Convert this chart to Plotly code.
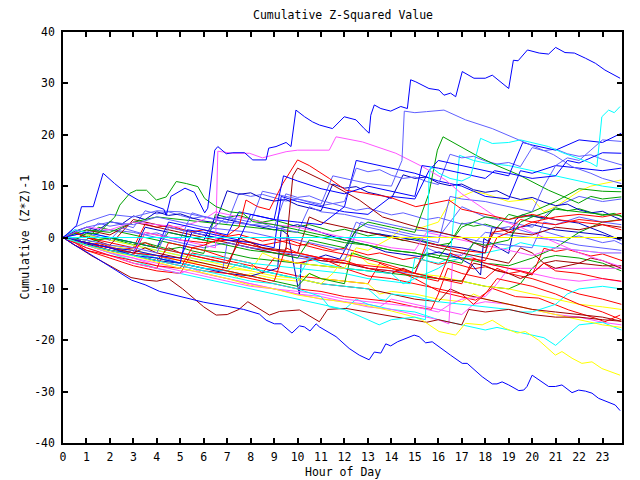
import plotly.graph_objects as go

# ---------------- data (hour of day, cumulative (Z*Z)-1) ----------------
blue_top_h = [0, 0.3, 0.58, 0.79, 1.29, 1.71, 2.2, 2.71, 3.2, 3.7, 4.3, 4.4, 4.6, 5.2, 5.6, 6.04, 6.17, 6.47, 6.6, 6.96, 7.24, 7.74, 8.09, 8.66, 8.77, 9.08, 9.51, 9.72, 9.93, 10.3, 10.64, 10.93, 11.49, 11.99, 12.49, 12.84, 13.05, 13.12, 13.27, 13.55, 13.97, 14.4, 14.68, 14.82, 15.04, 15.6, 16.03, 16.24, 16.52, 16.74, 17.02, 17.52, 18.0, 18.3, 19.0, 19.2, 19.4, 19.8, 20.3, 20.7, 21.0, 21.4, 21.8, 22.27, 22.7, 23.1, 23.75]
blue_top_v = [0, 1.1, 2.4, 6.0, 6.0, 12.5, 10.5, 8.6, 7.3, 6.5, 5.5, 4.3, 8.0, 9.6, 8.8, 4.8, 5.7, 17.0, 17.7, 16.3, 16.5, 16.5, 15.1, 15.1, 17.4, 17.7, 18.5, 17.7, 24.8, 23.5, 22.5, 21.9, 21.2, 23.5, 22.9, 21.2, 20.3, 23.8, 25.8, 25.1, 24.6, 25.5, 25.1, 30.7, 30.3, 29.0, 28.7, 27.7, 28.1, 27.4, 32.3, 31.0, 31.0, 31.6, 29.0, 34.5, 34.4, 36.5, 35.9, 35.7, 37.0, 36.0, 35.9, 34.9, 33.9, 32.6, 31.0]

blue_bot_h = [0, 0.5, 1.0, 1.64, 2.3, 2.92, 3.5, 4.12, 5.0, 6.0, 7.0, 7.7, 8.37, 8.66, 9.01, 9.3, 9.76, 10.08, 10.29, 10.53, 10.79, 10.93, 11.64, 12.2, 12.63, 13.05, 13.27, 13.55, 13.76, 13.97, 14.26, 14.61, 14.97, 15.18, 15.46, 15.74, 16.03, 16.52, 17.02, 17.23, 17.87, 18.3, 18.5, 18.72, 19.0, 19.43, 19.64, 19.78, 20.0, 20.28, 20.7, 20.99, 21.27, 21.7, 21.98, 22.27, 22.55, 22.83, 23.26, 23.54, 23.75]
blue_bot_v = [0, -1.5, -2.8, -4.7, -6.5, -8.3, -9.2, -10.5, -11.5, -12.6, -13.4, -14.0, -14.9, -16.1, -16.8, -16.8, -18.6, -17.2, -17.4, -18.2, -16.8, -17.4, -19.3, -21.6, -22.9, -23.8, -22.3, -22.5, -20.7, -21.1, -20.3, -19.6, -19.0, -19.3, -20.5, -20.3, -21.3, -22.9, -24.5, -24.5, -27.1, -28.5, -28.5, -28.1, -28.7, -29.8, -29.7, -29.0, -26.8, -27.7, -29.0, -29.0, -28.7, -30.2, -29.7, -29.9, -30.3, -31.3, -32.0, -32.6, -33.7]

blue3_h = [0, 1, 2, 3, 4, 5, 5.3, 6, 7, 7.5, 8, 9, 9.4, 10, 11, 12, 13, 14, 15, 15.3, 16, 17, 18, 18.4, 19, 20, 21, 21.5, 22, 23, 23.8]
blue3_v = [0, -1, -2, -3.5, -4, -5, 1.5, 1, 0, -0.5, 4.5, 3.5, 12, 11, 9.5, 8.5, 10, 9, 8, 14, 13.5, 12.5, 11.5, 13, 12.5, 11.5, 12, 15, 14.5, 16.5, 16.4]

blue4_h = [0, 1, 2, 3, 3.5, 4, 5, 6, 6.5, 7, 8, 9, 10, 10.93, 12, 13, 13.76, 15.18, 16.03, 16.88, 17.45, 17.8, 17.94, 18.5, 19.0, 19.29, 19.57, 20.7, 21.98, 23.1, 23.75]
blue4_v = [0, -1, -2, -3, 2, 1.5, 0.5, -0.5, 4, 3.5, 2.5, 1.5, 2.5, 1.1, -0.5, -1.5, -2.8, -3.7, -2.8, -4.0, -5.4, -7.3, -0.2, -1.8, -3.1, 3.4, 4.4, 3.7, 2.8, 0.8, -0.5]

blue5_h = [0, 1, 2, 3, 4, 5, 6, 7, 8, 9.15, 9.3, 9.6, 10.08, 10.15, 11.2, 11.8, 12.5, 13, 14, 15, 16, 17, 18, 18.3, 19, 20, 21, 22, 23, 23.8]
blue5_v = [0, -1.2, -2.5, -3.5, -4.5, -5, -6, -7, -7.5, -6.0, 1.5, 0.5, -11.2, -5.0, -3.4, -4.2, 1.5, 1, 0.3, -0.5, -1.5, -2, -3, 2, 1.5, 2.5, 1.5, 1, 0.5, -0.5]

blue6_h = [0, 1, 2, 3, 4, 5, 5.5, 6, 7, 8, 9, 9.3, 10, 11, 12, 13, 14, 15, 15.6, 16, 17, 18, 19, 19.6, 20, 21, 22, 23, 23.8]
blue6_v = [0, -1, -2, -2.5, -3.5, -4, 1, 0.5, -0.5, -1, -2, 8, 7, 6, 5, 4.5, 8, 7.5, 13, 15, 14, 13, 12, 18.5, 18, 17, 19, 18.5, 20.3]

blue7_h = [0, 1, 2, 3, 4, 4.5, 5, 6, 7, 7.5, 8, 9, 10, 11, 12, 12.5, 13, 14, 15, 16, 17, 17.5, 18, 19, 19.5, 20, 21, 22, 23, 23.8]
blue7_v = [0, 1, 0, -1, -2, 3, 2.5, 1.5, 0.5, 5, 4.5, 3.5, 3, 2.5, 6, 15, 14.5, 13.5, 12.5, 11, 10, 9, 8, 7.5, 13, 12.5, 14, 13.5, 13, 13.5]

mblue1_h = [0, 1, 2, 3, 4, 4.5, 5, 6, 7, 8, 8.5, 9, 10, 11, 11.5, 12, 13, 14, 14.45, 14.55, 15, 15.5, 16.24, 17.16, 17.87, 18.3, 19.43, 20.92, 21.7, 22.5, 23, 23.8]
mblue1_v = [0, -0.5, -1.5, -2, -3, 2, 1.5, 0.5, 4, 3, 9, 8.5, 7.5, 6.5, 12, 11.5, 10.5, 10, 15, 24.6, 24.3, 24.5, 24.8, 22.9, 21.9, 21.2, 19.0, 16.1, 13.8, 12.5, 11.5, 10.5]

mblue2_h = [0, 1, 2, 3, 4, 5, 6, 7, 8, 9, 10, 11, 12, 12.5, 13, 14, 15, 16, 16.5, 17, 18, 19, 20, 20.5, 21, 21.5, 22, 22.5, 23, 23.8]
mblue2_v = [0, 2, 3, 2.5, 4, 3, 2, 1.5, 1, 0, -0.5, -1.5, -2.5, 3, 2, 1, 0, -1, 8, 7.5, 7, 6, 5, 10, 14, 15.5, 15, 17, 19, 18.7]

mblue3_h = [0, 0.5, 1, 2, 3, 4, 5, 6, 7, 8, 9, 10, 10.5, 11, 12, 13, 14, 15, 16, 17, 18, 19, 20, 20.5, 21, 22, 23, 23.8]
mblue3_v = [0, 2, 3, 4.5, 4, 5.2, 5, 4, 3, 2.5, 2, 1, 6, 5, 4.5, 3.5, 2.5, 1.5, 1, 0, -1, -1.5, -2, 3, 2.5, 4, 3, 2.5]

mblue4_h = [0, 1, 2, 3, 4, 5, 6, 6.8, 7, 8, 9, 10, 11, 12, 12.7, 13, 14, 15, 16, 17, 17.5, 18, 19, 20, 21, 21.5, 22, 23, 23.8]
mblue4_v = [0, -1, -2, -3, -3.5, -5, -6, -6.5, -1, -2, -2.5, -3.5, -4, -4.5, 3, 2.5, 1.5, 0.5, 0, 6, 5, 4, 3, 2, 6, 7, 8, 7, 7.5]

mblue5_h = [0, 1, 2, 3, 4, 5, 6, 7, 8, 9, 10, 11, 12, 13, 14, 15, 15.5, 16, 17, 18, 19, 20, 21, 22, 23, 23.8]
mblue5_v = [0, 1, 1.5, 1, 0, -1, -2, -1, -2, -3, -4, -4.5, -5, -6, -6.5, -7, -2, -3, -3.5, 1, 0.5, 0, -0.5, -1.5, -2, -2.5]

red1_h = [0, 0.5, 1, 2, 3, 4, 5, 5.5, 6, 6.96, 7.5, 7.8, 8.3, 8.8, 9.37, 10.0, 10.5, 11.35, 12.06, 13, 13.9, 15.04, 16.45, 17, 18, 19, 20, 21, 22, 23, 23.8]
red1_v = [0, -1, -2, -3.5, -4.5, -5.5, -6, -2, -1.5, 0.2, 2, 7.3, 6, 5.4, 10.5, 15.1, 14, 11.5, 9.2, 8.5, 7.9, 6, 7.3, 5.5, 4.5, 3.5, 4.5, 3.5, 3, 2.5, 1.5]

red2_h = [0, 1, 2, 3, 4, 5, 6, 7, 8, 9, 9.5, 10, 11, 12, 13, 14, 15, 15.5, 16, 17, 18, 18.3, 19, 19.5, 20, 21, 22, 23, 23.8]
red2_v = [0, -1, -2, -3, -3.5, -4.5, -5.5, -6.5, -7.5, -8.5, -2, -3, -4, -5, -5.5, -6, -7, -1, -1.5, -2.5, -3, 1, 1.5, 3.5, 3, 4, 4.5, 4, 4.7]

red3_h = [0, 0.5, 1, 2, 3, 4, 5, 5.5, 6, 7, 8, 9, 10, 11, 12, 13, 13.5, 14, 15, 16.03, 17.59, 18.3, 19.29, 20.28, 21.56, 22.69, 23.1, 23.75]
red3_v = [0, -1.5, -2.5, -4, -5.5, -6.5, -7, -3, -3.5, -4.5, -5.5, -6.5, -7.5, -8, -8.5, -9, -5, -6, -8, -10.5, -12.2, -9.9, -11.5, -11.8, -14.1, -15.7, -16.4, -15.1]

red4_h = [0, 1, 2, 3, 3.5, 4, 5, 6, 7, 7.95, 8.5, 9.65, 10.3, 11.07, 12.49, 13.62, 15.04, 16, 17, 17.5, 18, 19, 20, 20.5, 21, 22, 23, 23.8]
red4_v = [0, -1.5, -2.5, -3.5, 1, 0.5, -0.5, -1, -0.5, -0.8, -1.5, -0.5, -1.5, -2.4, -3.7, -5.0, -7.0, -8, -9, -4, -5, -6, -7, -5, -6.5, -7, -8, -8.5]

red5_h = [0, 0.5, 1, 2, 3, 4, 4.5, 5, 6, 7, 8, 8.5, 9, 10, 11, 12, 13, 14, 15, 16, 17, 17.5, 18, 18.5, 19, 20, 21, 22, 23, 23.8]
red5_v = [0, -1, -2.5, -3.5, -5, -6, -1, -1.5, -2.5, -4, -5, -7, -4, -5, -4, -6, -7.5, -8, -9, -10, -11, -13, -11, -8, -8.5, -9.5, -11, -13, -14.5, -16]

red6_h = [0, 0.5, 1, 2, 3, 3.5, 4, 5, 6, 7, 7.5, 8, 9, 10, 11, 12, 13, 14, 15, 16, 16.5, 17, 18, 18.5, 19, 19.5, 20, 21, 22, 23, 23.8]
red6_v = [0, 1, 0, -1, -2, -1, -2, -3, -4, -5, -1, -1.5, -2.5, -3, -4, -4.5, -6, -6.5, -7.5, -8.5, -3, -4, -4.5, 0, 1, 2, 3, 2.5, 3.5, 3, 3.4]

red7_h = [0, 1, 2, 3, 4, 5, 6, 7, 8, 9, 10, 11, 12, 13, 14, 15, 15.7, 16, 16.4, 17, 18, 18.5, 19, 20, 21, 22, 23, 23.8]
red7_v = [0, -1, -2.5, -3.5, -4.5, -5.5, -6.5, -7, -8, -9, -10, -10.5, -11.5, -12, -12.5, -13.5, -14, -11, -6, -7, -8, -6, -7, -8, -9.5, -11, -12, -13]

dred1_h = [0, 0.5, 1.2, 2, 2.9, 3.5, 4, 4.5, 5.1, 6, 6.53, 7.0, 7.5, 7.88, 8.8, 9.23, 10.08, 10.93, 11.28, 12.06, 13, 14, 15, 15.5, 16, 17, 17.3, 18, 19, 20, 21, 22, 23, 23.8]
dred1_v = [0, -1.5, -3.5, -5.5, -7.8, -8.3, -8.5, -8, -10, -13.5, -15.1, -15, -14, -12.5, -15.1, -14.4, -14.1, -16.4, -14.0, -13.8, -14.5, -15.3, -16, -16.5, -16, -17, -14, -14.5, -14, -15, -15.5, -15.5, -16, -16.3]

dred2_h = [0, 0.5, 1, 2, 3, 4, 5, 6, 7, 8, 9, 10, 10.5, 11, 12, 13, 14, 15, 16, 17, 18, 19, 19.5, 20, 20.5, 21, 22, 23, 23.8]
dred2_v = [0, 1, 0, -1.5, 3.5, 2.5, 1.5, 0.5, -0.5, -1.5, -2.5, -3, 4, 3, 2, 1, 0, -1, -2, -3, -4, -5, -2, -3, -5, -4.5, -5, -5.5, -5.5]

dred3_h = [0, 1, 2, 3, 3.5, 4, 5, 6, 7, 7.5, 8, 8.5, 9.5, 9.8, 10.0, 11.5, 12.63, 13.62, 15.04, 16, 17, 17.5, 18, 18.5, 19, 20, 21, 22, 23, 23.8]
dred3_v = [0, -1, -2, -3, -2, -3, -4, -5, -6, 0, -1, -2, -2.5, 12, 13.5, 10.2, 7.3, 4.0, 2.1, 1, 0, -1, -2, 2, 1, 0.5, 2, 1.5, 2.5, 2]

dred4_h = [0, 1, 2, 3, 4, 4.5, 5, 6, 7, 8, 9, 10, 11, 12, 13, 14, 15, 16, 16.5, 17, 18, 19, 20, 21, 22, 23, 23.8]
dred4_v = [0, -1.5, -2.5, -3.5, -4.5, -2, -3, -4, -5, -6, -7, -8, -9, -9.5, -10, -11, -12, -12.5, -10, -11, -12, -13, -14, -14.5, -15, -15.5, -16.3]

dred5_h = [0, 0.5, 1, 2, 3, 4, 5, 6, 7, 8, 9, 10, 11, 12, 13, 14, 14.5, 15, 16, 17, 17.5, 18, 18.5, 19, 19.5, 20, 20.5, 21, 22, 22.5, 23, 23.8]
dred5_v = [0, -1, 1.5, 0.5, 3, 2, 1, 0, -1, -2, -3, -3.5, -4.5, -5, -6, -7, -6, -7, -8, -8.5, -5, -5.5, -6.5, -7, -8, -7, -5, -6, -5, -4, -4.5, -6]

green1_h = [0, 0.5, 1, 1.5, 2.21, 2.42, 2.85, 3.13, 3.56, 3.98, 4.4, 4.83, 5.26, 5.75, 6.04, 6.53, 7.1, 7.67, 8.09, 9, 10, 11, 12, 13, 14, 15, 16, 17, 17.5, 18, 19, 19.5, 20, 21, 22, 23, 23.8]
green1_v = [0, -0.5, 0.8, 0.8, 4.0, 6.3, 8.6, 9.2, 9.2, 7.3, 7.9, 10.9, 10.5, 9.9, 7.6, 6.0, 5.0, 4.7, 3.1, 2.5, 1.5, 0.5, -0.5, -1.5, -2.5, -3, -4, -5, -1, -1.5, -0.5, 3, 4, 5.5, 5, 4.5, 4.3]

green2_h = [0, 1, 2, 3, 4, 4.5, 5, 6, 7, 8, 9, 10, 10.5, 11, 12, 12.5, 13, 14, 15, 15.6, 15.96, 16.2, 17, 17.73, 18.5, 19.43, 20.7, 21.98, 22.5, 23, 23.8]
green2_v = [0, -1, 0, -1, -2, 1, 0.5, -0.5, -1.5, -2.5, -3, -4, -0.5, -1, -2, 1.5, 3, 2, 1, 8.6, 17, 19.6, 17.5, 15.7, 14, 12.2, 9.2, 6.7, 8, 7.5, 7.9]

green3_h = [0, 1, 1.5, 2, 3, 4, 5, 6, 7, 8, 9, 10, 11, 12, 13, 14, 15, 16, 17, 18, 19, 19.5, 20, 20.5, 21, 22, 23, 23.8]
green3_v = [0, -0.5, 2, 1.5, 0.5, -0.5, -1.5, -2.5, -3, -4, -4.5, -5, -5.5, -6, -6.5, -7, -7.5, -8, -8.5, -9.5, -10, -9, -6, -4, -3.5, -4, -5, -6.5]

green4_h = [0, 1, 2, 3, 4, 5, 6, 7, 8, 9, 10, 11, 12, 13, 14, 15, 16, 17, 18, 19, 20, 21, 22, 23, 23.8]
green4_v = [0, 1.5, 1, 3, 4, 3.5, 3, 2.5, 2, 1.5, 1, 0, -1, -1.5, -2.5, -3, -4, 2, 4, 3.5, 5, 7, 9.5, 9, 8.9]

green5_h = [0, 1, 2, 3, 4, 5, 6, 7, 8, 9, 10, 10.5, 11, 12, 12.3, 13, 14, 15, 15.5, 16, 17, 18, 19, 20, 21, 22, 23, 23.8]
green5_v = [0, -1.5, -2.5, -3, -4, -5, -6, -6.5, -7.5, -8.5, -9.5, -7, -8, -9, -3, -4, -5, -6, -3, -3.5, -4, -5, -5.5, -4, -2, 1, 3, 3.5]

mag1_h = [0, 1, 2, 3, 3.5, 4, 5, 6, 6.5, 6.6, 7.2, 7.95, 8.5, 9.51, 10, 11.35, 11.64, 12.77, 14.19, 15.32, 16.31, 17, 18, 18.65, 19.5, 20, 21, 22, 23, 23.8]
mag1_v = [0, -1, -2, -3, 1, 0.5, -0.5, -1.5, -2, 16.8, 16.4, 16.4, 15.5, 16.7, 17, 17, 19.6, 18.6, 16.4, 13.8, 11.2, 8.5, 5.5, 3.4, 2, 1, -1, -3, -4.5, -5.7]

mag2_h = [0, 1, 2, 3, 4, 5, 6, 7, 8, 9, 10, 11, 12, 13, 14, 15, 16, 16.5, 17, 18, 18.5, 19, 19.5, 20, 21, 22, 23, 23.8]
mag2_v = [0, -1.5, -3, -4, -5, -6, -7, -8, -9, -10, -10.5, -11, -12, -12.5, -13, -13.5, -14.5, -13, -12, -11.5, -9, -6, -6, -6, -6, -6, -6, -6]

mag3_h = [0, 0.5, 1, 2, 3, 4, 5, 5.5, 6, 7, 8, 9, 10, 11, 12, 13, 14, 15, 16, 16.45, 16.6, 17, 17.5, 18, 19, 20, 21, 22, 23, 23.8]
mag3_v = [0, -1, -2, -3.5, -5, -6, -7, -6, -7, -8, -9, -10, -11, -12, -12.5, -13.5, -14, -15, -16, -16.8, -5, -3, -4, -5, -6, -7, -8, -8.5, -8, -8.6]

mag4_h = [0, 0.5, 1, 2, 3, 4, 5, 6, 6.5, 7, 8, 9, 10, 11, 12, 13, 14, 15, 15.5, 16, 17, 18, 19, 20, 21, 22, 23, 23.8]
mag4_v = [0, 1, 2, 1.5, 3, 2.5, 2, 3.5, 5, 4.5, 3.5, 2.5, 2, 1, 0, -1, -2, -2.5, 1, 0.5, -0.5, -1.5, -2.5, -3.5, -2, -2.5, -3, -3]

mag5_h = [0, 1, 2, 3, 4, 5, 6, 7, 8, 9, 10, 11, 12, 13, 13.5, 14, 15, 16, 17, 17.5, 18, 19, 20, 21, 22, 23, 23.8]
mag5_v = [0, -1.5, -3, -4, -5.5, -6.5, -7.5, -8.5, -9.5, -10, -11, -11.5, -12.5, -13, -13.5, -12, -13, -14, -15, -13, -12.5, -13, -14, -15, -15.5, -16.5, -17]

cyan_flat_h = [0, 13.8]
cyan_flat_v = [0, 0]

cyan2_h = [0, 1, 2, 3, 4, 5, 6, 7, 8, 9, 10, 11, 11.35, 12, 13, 13.48, 14, 15, 15.45, 15.6, 15.67, 16.03, 16.5, 17, 17.37, 17.8, 18.3, 19, 19.5, 20, 20.7, 21.3, 22, 22.5, 22.76, 22.97, 23.26, 23.5, 23.75]
cyan2_v = [0, -1.5, -2.5, -3.5, -4.5, -5.5, -6.5, -7.5, -8.5, -9, -10, -11.5, -13.5, -14, -16, -17, -16, -15.5, -16, 11.2, 13.8, 12.5, 11.5, 11, 11.8, 19.3, 18.3, 18.5, 19, 18.5, 17.7, 16.5, 15.4, 14.5, 13.8, 23.5, 24.8, 24.3, 25.5]

cyan3_h = [0, 1, 2, 3, 4, 5, 6, 7, 7.5, 8, 9, 10, 10.5, 11, 12, 13, 14, 14.5, 15, 16, 16.5, 17, 18, 19, 19.5, 20, 21, 22, 23, 23.8]
cyan3_v = [0, -1, -2, -3, -4, -5, -6, -6.5, -5, -6, -7, -8, -4, -5, -6, -6.5, -7, -9, -8, -6, -4.5, -4, -3, -2, -1, -1.5, -2, -2.5, -3, -3]

cyan4_h = [0, 0.5, 1, 2, 3, 4, 5, 6, 7, 8, 9, 10, 11, 12, 13, 13.5, 13.76, 14, 15, 16, 17, 18, 19, 19.5, 20, 21, 21.5, 22, 23, 23.8]
cyan4_v = [0, 1, 0.5, -0.5, -1.5, -2.5, -3.5, -4.5, -5, -6, -7, -8, -9, -9.5, -10, -12, -12.2, -11, -11.5, -12.5, -13, -13.5, -14, -14.5, -14.5, -13, -11, -10, -9.5, -10]

cyan5_h = [0, 1, 2, 3, 4, 5, 6, 7, 8, 9, 10, 11, 12, 12.5, 13, 14, 15, 16, 17, 18, 18.5, 19, 20, 20.5, 21, 21.5, 22, 23, 23.8]
cyan5_v = [0, -1.5, -3, -4.5, -6, -7, -8, -9, -10, -11, -12, -13, -14, -12, -13, -14, -14.5, -16, -17, -18, -17.5, -18, -19, -19.5, -21, -19, -17, -16.5, -18]

cyan6_h = [0, 0.5, 1, 2, 3, 4, 5, 6, 7, 8, 9, 10, 11, 12, 13, 14, 14.8, 15, 16, 16.5, 16.9, 17.5, 18, 19, 20, 21, 22, 23, 23.8]
cyan6_v = [0, 1.5, 1, 0, -1, -2, -3, -3.5, -4, -5, -5.5, -6, -6.5, -7, -8, -8.5, -9, -4, -5, -4, 16, 15, 14.5, 14, 13, 12, 11, 10, 9.5]

yel_flat_h = [0, 23.83]
yel_flat_v = [0, 0]

yel2_h = [0, 1, 2, 3, 4, 5, 6, 7, 8, 9, 10, 11, 12, 13, 14, 15, 15.32, 16.03, 16.74, 17.16, 17.87, 18.3, 18.86, 19.36, 19.71, 20.28, 20.99, 21.27, 21.7, 22.12, 22.55, 22.97, 23.75]
yel2_v = [0, -1.5, -2.8, -3.6, -4.8, -6.0, -6.9, -8.0, -9.3, -10.0, -11.2, -11.9, -12.6, -13.3, -14.3, -15.5, -16.1, -18.3, -19.0, -16.7, -17.0, -16.1, -17.7, -18.6, -18.3, -20.0, -22.9, -22.2, -23.5, -24.5, -24.2, -25.5, -26.8]

yel3_h = [0, 1, 2, 3, 4, 5, 6, 7, 8, 8.5, 9, 10, 11, 12, 12.5, 13, 14, 14.5, 15, 16, 16.5, 17, 17.5, 18, 19, 20, 20.5, 21, 22, 22.5, 23, 23.8]
yel3_v = [0, -1, -2, -2.5, -3.5, -4.5, -5, -6, -6.5, -3, -4, -5, -5.5, -6, -2, -2.5, 0, 2, 1.5, 3, 7, 8, 9, 8.5, 7, 7.5, 5, 6, 9, 10, 10.5, 11.2]

yel4_h = [0, 1, 2, 3, 4, 5, 6, 7, 7.5, 8, 9, 10, 10.5, 11, 12, 13, 13.5, 14, 15, 16, 17, 17.5, 18, 19, 20, 21, 22, 23, 23.8]
yel4_v = [0, -1, -1.5, -2.5, -3.5, -4.5, -5.5, -6.5, -8, -7, -8, -8.5, -7, -8, -8.5, -9, -11, -10.5, -11, -12, -12.5, -11, -12, -13, -14, -15, -16, -17, -17.5]

yel5_h = [0, 0.5, 1, 2, 3, 4, 5, 6, 7, 8, 9, 10, 11, 11.5, 12, 12.5, 13, 14, 15, 16, 17, 18, 19, 20, 21, 22, 23, 23.8]
yel5_v = [0, 1, 0.5, -0.5, -1.5, -2.5, -3.5, -4.5, -5.5, -6.5, -7.5, -8, -9, -7, -4, -3, -5, -6, -7, -7.5, -8.5, -9.5, -10, -11, -12, -13, -13.5, -14]

# half-hourly sampled series
half_h = [0, 0.5, 1, 1.5, 2, 2.5, 3, 3.5, 4, 4.5, 5, 5.5, 6, 6.5, 7, 7.5, 8, 8.5, 9, 9.5, 10, 10.5, 11, 11.5, 12, 12.5, 13, 13.5, 14, 14.5, 15, 15.5, 16, 16.5, 17, 17.5, 18, 18.5, 19, 19.5, 20, 20.5, 21, 21.5, 22, 22.5, 23, 23.5, 23.83]
blue8_v = [0, 1.2, 2.0, 1.4, 3.1, 2.6, 4.2, 3.5, 5.0, 4.3, 4.6, 3.8, 3.2, 2.9, 9.1, 8.4, 8.7, 7.6, 7.1, 7.4, 6.3, 5.8, 5.2, 10.4, 9.6, 9.9, 8.8, 8.3, 7.6, 12.2, 11.5, 11.8, 10.6, 10.1, 10.4, 9.3, 8.8, 9.1, 8.0, 7.4, 7.8, 6.9, 6.2, 6.5, 5.4, 4.8, 5.1, 4.0, 3.4]
mblue6_v = [0, -0.6, 0.8, 0.2, -0.5, 1.9, 1.2, 0.6, 0.9, 0.1, -0.4, 4.8, 4.1, 3.6, 3.9, 3.0, 2.4, 2.8, 1.9, 8.5, 7.8, 8.1, 7.2, 6.6, 7.0, 13.5, 12.8, 13.2, 12.1, 11.5, 11.8, 10.9, 10.3, 16.2, 15.5, 15.8, 14.9, 14.3, 14.6, 13.8, 17.5, 16.9, 17.2, 16.3, 15.8, 16.1, 15.2, 14.6, 14.1]
mblue7_v = [0, 1.5, 0.9, 2.8, 2.2, 2.6, 1.9, 5.2, 4.6, 5.0, 4.3, 3.7, 4.1, 3.4, 2.8, 8.6, 8.0, 8.4, 7.7, 7.1, 7.5, 6.8, 6.2, 6.6, 5.9, 5.3, 5.7, 5.0, 4.4, 4.8, 4.1, 3.5, 3.9, 3.2, 2.6, 3.0, 2.3, 1.7, 2.1, 1.4, 0.8, 1.2, 0.5, -0.1, 0.3, -0.4, -1.0, -0.6, -1.3]
green6_v = [0, 0.8, 0.2, -0.4, -0.1, -0.8, -1.4, -1.0, -1.7, -2.3, -1.9, -2.6, -3.1, 4.5, 3.9, 4.3, 3.6, 3.0, 3.4, 2.7, 2.1, 2.5, 1.8, 1.2, 1.6, 0.9, 0.3, 0.7, 0.0, -0.6, -0.2, -0.9, -1.5, -1.1, 2.8, 2.2, 2.6, 1.9, 4.5, 3.9, 4.3, 3.6, 5.8, 5.2, 5.6, 4.9, 4.3, 4.7, 4.0]
red8_v = [0, -0.9, -1.5, -1.1, -1.8, -2.4, -2.0, 2.6, 2.0, 2.4, 1.7, 1.1, 1.5, 0.8, 0.2, 0.6, -0.1, -0.7, -0.3, -1.0, -1.6, -1.2, -1.9, -2.5, -2.1, -2.8, -3.4, -3.0, -3.7, -4.3, -3.9, -4.6, -5.2, -4.8, -5.5, -6.1, -5.7, -6.4, -7.0, -6.6, -7.3, -2.1, -2.7, -2.3, -3.0, -3.6, -3.2, -3.9, -4.5]

x_tick_vals = list(range(24))
x_tick_text = [str(v) for v in x_tick_vals]
y_tick_vals = [-40, -30, -20, -10, 0, 10, 20, 30, 40]
y_tick_text = ["-40", "-30", "-20", "-10", "0", "10", "20", "30", "40"]

# ---------------- styles ----------------
RED = "#ff0000"
GREEN = "#00a000"
BLUE = "#0000ff"
NAVY = "#0000c0"
MBLUE = "#6060ff"
MAG = "#ff55ff"
CYAN = "#00ffff"
YEL = "#ffff00"
DRED = "#a00000"

series = [
    (red3_h, red3_v, RED), (green3_h, green3_v, GREEN), (mblue5_h, mblue5_v, MBLUE),
    (mag5_h, mag5_v, MAG), (cyan5_h, cyan5_v, CYAN), (yel4_h, yel4_v, YEL),
    (half_h, green6_v, GREEN), (half_h, red8_v, RED),
    (dred4_h, dred4_v, DRED), (blue5_h, blue5_v, NAVY), (red7_h, red7_v, RED),
    (mag2_h, mag2_v, MAG), (cyan4_h, cyan4_v, CYAN), (yel5_h, yel5_v, YEL),
    (half_h, mblue7_v, MBLUE),
    (dred5_h, dred5_v, DRED), (green5_h, green5_v, GREEN), (mblue4_h, mblue4_v, MBLUE),
    (red5_h, red5_v, RED), (mag3_h, mag3_v, MAG), (cyan3_h, cyan3_v, CYAN),
    (yel3_h, yel3_v, YEL), (dred2_h, dred2_v, DRED), (blue4_h, blue4_v, NAVY),
    (half_h, blue8_v, NAVY),
    (green4_h, green4_v, GREEN), (mblue3_h, mblue3_v, MBLUE), (red4_h, red4_v, RED),
    (mag4_h, mag4_v, MAG), (cyan6_h, cyan6_v, CYAN), (blue7_h, blue7_v, BLUE),
    (half_h, mblue6_v, MBLUE),
    (red6_h, red6_v, RED), (dred1_h, dred1_v, DRED), (mblue2_h, mblue2_v, MBLUE),
    (green2_h, green2_v, GREEN), (red2_h, red2_v, RED), (blue6_h, blue6_v, BLUE),
    (mag1_h, mag1_v, MAG), (dred3_h, dred3_v, DRED), (mblue1_h, mblue1_v, MBLUE),
    (green1_h, green1_v, GREEN), (red1_h, red1_v, RED), (blue3_h, blue3_v, BLUE),
    (yel2_h, yel2_v, YEL), (cyan2_h, cyan2_v, CYAN), (yel_flat_h, yel_flat_v, YEL),
    (cyan_flat_h, cyan_flat_v, CYAN), (blue_bot_h, blue_bot_v, BLUE),
    (blue_top_h, blue_top_v, BLUE),
]

FONT = "DejaVu Sans Mono"

fig = go.Figure()
for h, v, c in series:
    fig.add_trace(go.Scatter(x=h, y=v, mode="lines", line=dict(color=c, width=1),
                             hoverinfo="skip", showlegend=False))

axis_common = dict(
    showgrid=False, zeroline=False, showline=True, linecolor="black", linewidth=1.5,
    mirror="ticks", ticks="inside", ticklen=5, tickcolor="black", tickwidth=1.5,
    tickfont=dict(family=FONT, size=11.5, color="black"),
)
fig.update_xaxes(range=[0, 23.83], tickmode="array", tickvals=x_tick_vals,
                 ticktext=x_tick_text, ticklabelstandoff=2, **axis_common)
fig.update_yaxes(range=[-40, 40], tickmode="array", tickvals=y_tick_vals,
                 ticktext=y_tick_text, ticklabelstandoff=4, **axis_common)

fig.update_layout(
    width=640, height=480,
    margin=dict(l=63, r=18, t=32, b=37),
    plot_bgcolor="white", paper_bgcolor="white",
    font=dict(family=FONT, size=11.5, color="black"),
    annotations=[
        dict(text="Cumulative Z-Squared Value", x=0.5, y=1, xref="paper", yref="paper",
             xanchor="center", yanchor="middle", yshift=17, showarrow=False,
             font=dict(family=FONT, size=11.5, color="black")),
        dict(text="Hour of Day", x=0.5, y=0, xref="paper", yref="paper",
             xanchor="center", yanchor="middle", yshift=-29, showarrow=False,
             font=dict(family=FONT, size=11.5, color="black")),
        dict(text="Cumulative (Z*Z)-1", x=0, y=0.5, xref="paper", yref="paper",
             xanchor="center", yanchor="middle", xshift=-39, textangle=-90, showarrow=False,
             font=dict(family=FONT, size=11.5, color="black")),
    ],
)

fig.write_html("out.html")
